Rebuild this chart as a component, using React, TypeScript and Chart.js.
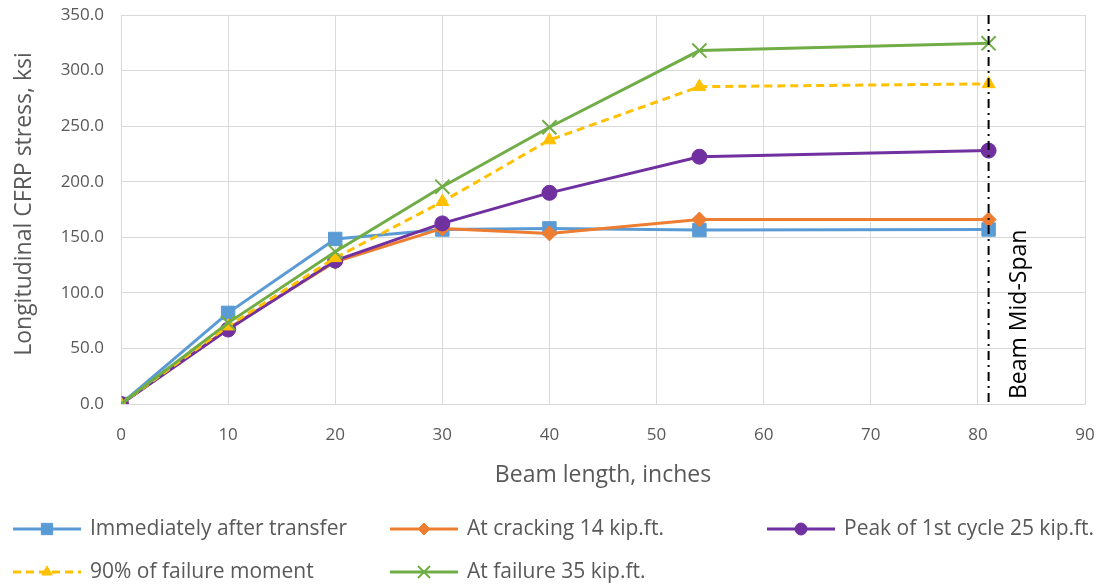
import React, { useEffect, useRef } from "react";
import { Chart, registerables } from "chart.js";
import { drawPoint } from "chart.js/helpers";

Chart.register(...registerables);

// Distance along the beam (inches)
const positions = [0, 10, 20, 30, 40, 54, 81];

// Longitudinal CFRP stress (ksi) for each load stage
const afterTransfer = [0, 82, 148.5, 157, 158, 156.5, 157];
const atCracking = [0, 68, 128, 158, 153.5, 166, 166];
const peakFirstCycle = [0, 67, 129, 162.5, 190, 222.5, 228];
const ninetyPercentFailure = [0, 70, 131.5, 182, 237.5, 285.5, 288];
const atFailure = [0, 73, 137, 195.5, 249, 318, 324.5];

const seriesNames = [
  "Immediately after transfer",
  "At cracking 14 kip.ft.",
  "Peak of 1st cycle 25 kip.ft.",
  "90% of failure moment",
  "At failure 35 kip.ft.",
];

const yTicks = [0, 50, 100, 150, 200, 250, 300, 350];
const xTicks = [0, 10, 20, 30, 40, 50, 60, 70, 80, 90];

const MID_SPAN = 81;

const FONT = "'Open Sans', 'DejaVu Sans', sans-serif";
const TEXT_GRAY = "#595959";

type Style = {
  color: string;
  point: string;
  radius: number;
  pointBorder: number;
  dash: number[];
};

const styles: Style[] = [
  { color: "#5B9BD5", point: "rect", radius: 9.5, pointBorder: 1, dash: [] },
  { color: "#ED7D31", point: "rectRot", radius: 7.5, pointBorder: 1, dash: [] },
  { color: "#7030A0", point: "circle", radius: 7.5, pointBorder: 1, dash: [] },
  { color: "#FFC000", point: "triangle", radius: 7.5, pointBorder: 1, dash: [8, 5] },
  { color: "#70AD47", point: "crossRot", radius: 10, pointBorder: 2, dash: [] },
];

const seriesValues = [afterTransfer, atCracking, peakFirstCycle, ninetyPercentFailure, atFailure];

// legend grid: column x of line sample start, row y
const legendSlots = [
  { x: 13, y: 529 },
  { x: 390, y: 529 },
  { x: 767, y: 529 },
  { x: 13, y: 572 },
  { x: 390, y: 572 },
];

const overlayPlugin = {
  id: "overlay",
  afterDatasetsDraw(chart: any) {
    const { ctx, chartArea, scales } = chart;
    const x = scales.x.getPixelForValue(MID_SPAN);
    ctx.save();
    // mid-span marker line
    ctx.strokeStyle = "#000";
    ctx.lineWidth = 2;
    ctx.setLineDash([9, 5, 2, 5]);
    ctx.beginPath();
    ctx.moveTo(x, chartArea.top);
    ctx.lineTo(x, chartArea.bottom);
    ctx.stroke();
    ctx.setLineDash([]);
    ctx.translate(x + 31, chartArea.bottom - 5);
    ctx.rotate(-Math.PI / 2);
    ctx.fillStyle = "#000";
    ctx.font = `23px ${FONT}`;
    ctx.textAlign = "left";
    ctx.textBaseline = "middle";
    ctx.fillText("Beam Mid-Span", 0, 0);
    ctx.restore();
  },
  afterDraw(chart: any) {
    const { ctx, chartArea } = chart;
    ctx.save();
    ctx.fillStyle = TEXT_GRAY;
    // axis titles
    ctx.font = `23px ${FONT}`;
    ctx.textAlign = "center";
    ctx.textBaseline = "middle";
    ctx.fillText("Beam length, inches", (chartArea.left + chartArea.right) / 2, 475);
    ctx.save();
    ctx.translate(24, 204);
    ctx.rotate(-Math.PI / 2);
    ctx.fillText("Longitudinal CFRP stress, ksi", 0, 0);
    ctx.restore();

    // legend
    ctx.font = `21px ${FONT}`;
    seriesNames.forEach((name, i) => {
      const s = styles[i];
      const slot = legendSlots[i];
      const len = 68;
      ctx.strokeStyle = s.color;
      ctx.lineWidth = 3;
      ctx.setLineDash(s.dash);
      ctx.beginPath();
      ctx.moveTo(slot.x, slot.y);
      ctx.lineTo(slot.x + len, slot.y);
      ctx.stroke();
      ctx.setLineDash([]);
      ctx.fillStyle = s.color;
      ctx.strokeStyle = s.color;
      ctx.lineWidth = s.pointBorder;
      drawPoint(
        ctx,
        { pointStyle: s.point as any, rotation: 0, borderWidth: s.pointBorder, radius: s.radius - 1.5 } as any,
        slot.x + len / 2,
        slot.y
      );
      ctx.fillStyle = TEXT_GRAY;
      ctx.textAlign = "left";
      ctx.textBaseline = "middle";
      ctx.fillText(name, slot.x + len + 9, slot.y);
    });
    ctx.restore();
  },
};

// keep the plot rectangle fixed regardless of tick label overhang
const clearPadding = (scale: any) => {
  scale.paddingTop = 0;
  scale.paddingBottom = 0;
  scale.paddingLeft = 0;
  scale.paddingRight = 0;
};

export default function App() {
  const canvasRef = useRef<HTMLCanvasElement | null>(null);

  useEffect(() => {
    const canvas = canvasRef.current;
    if (!canvas) return;
    const n = seriesNames.length;
    const chart = new Chart(canvas, {
      type: "line",
      data: {
        datasets: seriesNames.map((name, i) => ({
          label: name,
          data: positions.map((p, k) => ({ x: p, y: seriesValues[i][k] })),
          borderColor: styles[i].color,
          backgroundColor: styles[i].color,
          borderWidth: 3,
          borderDash: styles[i].dash,
          pointStyle: styles[i].point as any,
          pointRadius: styles[i].radius,
          pointBorderWidth: styles[i].pointBorder,
          pointBackgroundColor: styles[i].color,
          pointBorderColor: styles[i].color,
          tension: 0,
          fill: false,
          order: n - 1 - i,
        })),
      },
      options: {
        animation: false,
        responsive: false,
        devicePixelRatio: 1,
        layout: { padding: { top: 15, right: 22, left: 0, bottom: 0 } },
        plugins: {
          legend: { display: false },
          tooltip: { enabled: false },
        },
        scales: {
          x: {
            type: "linear",
            min: 0,
            max: 90,
            afterFit: (scale: any) => {
              scale.height = 182;
              clearPadding(scale);
            },
            afterBuildTicks: (scale: any) => {
              scale.ticks = xTicks.map((v) => ({ value: v }));
            },
            grid: { color: "#d9d9d9", lineWidth: 1, drawTicks: false },
            border: { color: "#d9d9d9", width: 1 },
            ticks: {
              color: TEXT_GRAY,
              font: { family: FONT, size: 17 },
              padding: 21,
              maxRotation: 0,
              autoSkip: false,
            },
          },
          y: {
            type: "linear",
            min: 0,
            max: 350,
            afterFit: (scale: any) => {
              scale.width = 121;
              clearPadding(scale);
            },
            afterBuildTicks: (scale: any) => {
              scale.ticks = yTicks.map((v) => ({ value: v }));
            },
            grid: { color: "#d9d9d9", lineWidth: 1, drawTicks: false },
            border: { color: "#d9d9d9", width: 1 },
            ticks: {
              color: TEXT_GRAY,
              font: { family: FONT, size: 17 },
              padding: 17,
              callback: (v: any) => Number(v).toFixed(1),
            },
          },
        },
      },
      plugins: [overlayPlugin],
    });
    return () => chart.destroy();
  }, []);

  return (
    <div style={{ position: "fixed", left: 0, top: 0, width: 1107, height: 586, background: "#fff" }}>
      <canvas ref={canvasRef} width={1107} height={586} style={{ width: 1107, height: 586 }} />
    </div>
  );
}
